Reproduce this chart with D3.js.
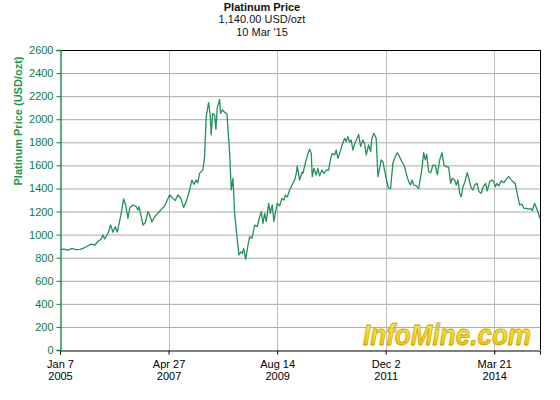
<!DOCTYPE html>
<html>
<head>
<meta charset="utf-8">
<script src="https://cdn.jsdelivr.net/npm/d3@7"></script>
<style>
  html, body { margin: 0; padding: 0; background: #fff; }
  svg { display: block; font-family: Arial, "Liberation Sans", sans-serif; }
</style>
</head>
<body>
<div id="chart"></div>
<script>
// ---- data (decimal years, USD/ozt) ----
const years = [
  2005.016, 2005.101, 2005.185, 2005.270, 2005.355, 2005.440, 2005.503, 2005.573, 2005.679, 2005.757,
  2005.821, 2005.885, 2005.927, 2005.963, 2006.033, 2006.090, 2006.139, 2006.187, 2006.230, 2006.315,
  2006.365, 2006.408, 2006.457, 2006.493, 2006.562, 2006.632, 2006.668, 2006.690, 2006.738, 2006.774,
  2006.823, 2006.880, 2006.916, 2006.965, 2007.022, 2007.092, 2007.162, 2007.234, 2007.340, 2007.410,
  2007.459, 2007.516, 2007.573, 2007.636, 2007.692, 2007.764, 2007.812, 2007.855, 2007.903, 2007.939,
  2007.975, 2008.045, 2008.081, 2008.115, 2008.166, 2008.200, 2008.221, 2008.251, 2008.293, 2008.321,
  2008.348, 2008.399, 2008.420, 2008.454, 2008.505, 2008.554, 2008.611, 2008.645, 2008.681, 2008.717,
  2008.772, 2008.808, 2008.844, 2008.878, 2008.907, 2008.950, 2008.999, 2009.035, 2009.083, 2009.141,
  2009.196, 2009.246, 2009.280, 2009.316, 2009.352, 2009.386, 2009.437, 2009.471, 2009.513, 2009.549,
  2009.577, 2009.619, 2009.670, 2009.719, 2009.761, 2009.789, 2009.831, 2009.882, 2009.931, 2009.988,
  2010.022, 2010.043, 2010.094, 2010.143, 2010.164, 2010.212, 2010.270, 2010.306, 2010.340, 2010.361,
  2010.397, 2010.445, 2010.481, 2010.518, 2010.566, 2010.609, 2010.657, 2010.708, 2010.751, 2010.784,
  2010.835, 2010.869, 2010.905, 2010.954, 2010.996, 2011.047, 2011.081, 2011.117, 2011.153, 2011.187,
  2011.223, 2011.272, 2011.314, 2011.344, 2011.386, 2011.435, 2011.471, 2011.505, 2011.556, 2011.598,
  2011.625, 2011.668, 2011.716, 2011.753, 2011.789, 2011.822, 2011.858, 2011.894, 2011.928, 2011.979,
  2012.022, 2012.070, 2012.119, 2012.161, 2012.212, 2012.261, 2012.318, 2012.352, 2012.403, 2012.445,
  2012.473, 2012.515, 2012.564, 2012.615, 2012.657, 2012.685, 2012.721, 2012.755, 2012.784, 2012.826,
  2012.869, 2012.918, 2012.966, 2013.009, 2013.060, 2013.108, 2013.151, 2013.199, 2013.250, 2013.293,
  2013.327, 2013.377, 2013.411, 2013.447, 2013.483, 2013.517, 2013.553, 2013.589, 2013.644, 2013.695,
  2013.729, 2013.765, 2013.801, 2013.850, 2013.892, 2013.941, 2013.983, 2014.034, 2014.068, 2014.119,
  2014.167, 2014.209, 2014.237, 2014.273, 2014.309, 2014.365, 2014.422, 2014.470, 2014.521, 2014.564,
  2014.612, 2014.661, 2014.703, 2014.754, 2014.803, 2014.845, 2014.894, 2014.945, 2014.987, 2015.021,
  2015.072, 2015.114, 2015.157, 2015.185
];
const prices = [
  870, 875, 865, 880, 870, 872, 880, 895, 918, 910,
  940, 960, 997, 962, 1011, 1083, 1020, 1069, 1022, 1185,
  1309, 1257, 1141, 1228, 1257, 1243, 1214, 1243, 1155, 1083,
  1103, 1199, 1170, 1112, 1155, 1185, 1219, 1248, 1343, 1314,
  1295, 1343, 1320, 1236, 1286, 1387, 1473, 1435, 1473, 1450,
  1531, 1560, 1675, 2022, 2143, 2037, 1863, 2050, 2037, 1912,
  2094, 2172, 2050, 2080, 2060, 2050, 1704, 1387, 1488, 1185,
  953, 823, 850, 837, 881, 786, 910, 982, 968, 1083,
  1069, 1155, 1199, 1098, 1185, 1112, 1271, 1185, 1257, 1112,
  1185, 1271, 1250, 1314, 1300, 1343, 1325, 1387, 1430, 1473,
  1531, 1595, 1473, 1540, 1531, 1618, 1704, 1739, 1704, 1502,
  1574, 1517, 1574, 1509, 1560, 1531, 1560, 1560, 1661, 1704,
  1690, 1733, 1661, 1719, 1777, 1835, 1806, 1849, 1800, 1820,
  1733, 1800, 1835, 1869, 1765, 1820, 1790, 1690, 1777, 1719,
  1830, 1878, 1835, 1502, 1574, 1647, 1632, 1560, 1488, 1401,
  1401, 1618, 1675, 1710, 1675, 1632, 1590, 1531, 1459, 1430,
  1473, 1430, 1422, 1401, 1500, 1574, 1710, 1647, 1697, 1545,
  1536, 1603, 1603, 1517, 1647, 1710, 1603, 1589, 1583, 1444,
  1488, 1473, 1430, 1473, 1358, 1329, 1415, 1450, 1537, 1459,
  1401, 1387, 1430, 1444, 1372, 1358, 1415, 1444, 1380, 1459,
  1473, 1459, 1415, 1444, 1421, 1466, 1450, 1479, 1502, 1479,
  1459, 1444, 1358, 1257, 1264, 1228, 1228, 1220, 1228, 1207,
  1271, 1228, 1178, 1140
];
const yTicks = [0, 200, 400, 600, 800, 1000, 1200, 1400, 1600, 1800, 2000, 2200, 2400, 2600];
const xTickDates = ["2005-01-07", "2007-04-27", "2009-08-14", "2011-12-02", "2014-03-21"];
const xTickLine1 = ["Jan 7", "Apr 27", "Aug 14", "Dec 2", "Mar 21"];
const xTickLine2 = ["2005", "2007", "2009", "2011", "2014"];
const titleLines = ["Platinum Price", "1,140.00 USD/ozt", "10 Mar '15"];
const yAxisTitle = "Platinum Price (USD/ozt)";
const logoText = "InfoMine.com";

// ---- helpers ----
function toDate(y) {
  const yr = Math.floor(y);
  const s = Date.UTC(yr, 0, 1), e = Date.UTC(yr + 1, 0, 1);
  return new Date(s + (y - yr) * (e - s));
}
const data = years.map((y, i) => ({ date: toDate(y), value: prices[i] }));

const W = 560, H = 400;
const m = { left: 60, right: 20, top: 50, bottom: 50 };
const green = "#0c7c3e";
const lineGreen = "#23905a";
const gridColor = "#a9a9a9";

const svg = d3.select("#chart").append("svg").attr("width", W).attr("height", H);

const x = d3.scaleUtc()
  .domain([new Date(Date.UTC(2005, 0, 7)), new Date(Date.UTC(2015, 2, 10))])
  .range([m.left, W - m.right]);
const y = d3.scaleLinear().domain([0, 2600]).range([H - m.bottom, m.top]);

const tickDates = xTickDates.map(s => { const [a, b, c] = s.split("-").map(Number); return new Date(Date.UTC(a, b - 1, c)); });

// gridlines
svg.append("g").selectAll("line").data(yTicks.filter(v => v > 0 && v < 2600)).join("line")
  .attr("x1", m.left).attr("x2", W - m.right)
  .attr("y1", d => y(d) + 0.5).attr("y2", d => y(d) + 0.5)
  .attr("stroke", gridColor).attr("stroke-width", 1);
svg.append("g").selectAll("line").data(tickDates.slice(1)).join("line")
  .attr("x1", d => Math.round(x(d)) + 0.5).attr("x2", d => Math.round(x(d)) + 0.5)
  .attr("y1", m.top).attr("y2", H - m.bottom)
  .attr("stroke", "#bdbdbd").attr("stroke-width", 1);

// logo
const defs = svg.append("defs");
const grad = defs.append("linearGradient").attr("id", "logoGrad").attr("x1", 0).attr("y1", 0).attr("x2", 0).attr("y2", 1);
grad.append("stop").attr("offset", "0%").attr("stop-color", "#fff27a");
grad.append("stop").attr("offset", "55%").attr("stop-color", "#f7d21e");
grad.append("stop").attr("offset", "100%").attr("stop-color", "#e8b800");
svg.append("text")
  .attr("x", 363).attr("y", 345)
  .attr("font-size", 30).attr("font-weight", "bold").attr("font-style", "italic")
  .attr("textLength", 168).attr("lengthAdjust", "spacingAndGlyphs")
  .attr("fill", "url(#logoGrad)").attr("stroke", "#c9a200").attr("stroke-width", 0.8)
  .text(logoText);

// frame top/right
svg.append("line").attr("x1", m.left).attr("x2", W - m.right).attr("y1", m.top + 0.5).attr("y2", m.top + 0.5)
  .attr("stroke", "#000").attr("stroke-width", 1);
svg.append("line").attr("x1", W - m.right + 0.5).attr("x2", W - m.right + 0.5).attr("y1", m.top).attr("y2", H - m.bottom)
  .attr("stroke", "#000").attr("stroke-width", 1);

// price line
svg.append("path").datum(data)
  .attr("fill", "none").attr("stroke", lineGreen).attr("stroke-width", 1.3).attr("stroke-linejoin", "round")
  .attr("d", d3.line().x(d => x(d.date)).y(d => y(d.value)));

// x axis
const xAxis = svg.append("g").attr("transform", `translate(0,${H - m.bottom + 0.5})`)
  .call(d3.axisBottom(x).tickValues(tickDates).tickSize(4).tickFormat(""));
xAxis.select(".domain").attr("stroke", "#000");
xAxis.selectAll(".tick line").attr("stroke", "#000");
xAxis.selectAll(".tick").append("text")
  .attr("fill", "#000").attr("font-size", 11).attr("text-anchor", "middle").attr("y", 17)
  .text((d, i) => xTickLine1[i]);
xAxis.selectAll(".tick").append("text")
  .attr("fill", "#000").attr("font-size", 11).attr("text-anchor", "middle").attr("y", 29)
  .text((d, i) => xTickLine2[i]);

// y axis
const yAxis = svg.append("g").attr("transform", `translate(${m.left + 0.5},0)`)
  .call(d3.axisLeft(y).tickValues(yTicks).tickSize(4).tickPadding(3).tickFormat(d3.format("d")));
yAxis.select(".domain").attr("stroke", lineGreen).attr("stroke-width", 1.5);
yAxis.selectAll(".tick line").attr("stroke", green);
yAxis.selectAll(".tick text").attr("fill", green).attr("font-size", 11).attr("font-family", "Arial, 'Liberation Sans', sans-serif");

// y axis title
svg.append("text")
  .attr("transform", "translate(22,121) rotate(-90)")
  .attr("text-anchor", "middle").attr("font-size", 11).attr("font-weight", "bold").attr("fill", "#179850")
  .text(yAxisTitle);

// titles
svg.append("text").attr("x", 262).attr("y", 11).attr("text-anchor", "middle")
  .attr("font-size", 11).attr("font-weight", "bold").attr("fill", "#111").text(titleLines[0]);
svg.append("text").attr("x", 262).attr("y", 23).attr("text-anchor", "middle")
  .attr("font-size", 11).attr("fill", "#111").text(titleLines[1]);
svg.append("text").attr("x", 262).attr("y", 36).attr("text-anchor", "middle")
  .attr("font-size", 11).attr("fill", "#111").text(titleLines[2]);
</script>
</body>
</html>
